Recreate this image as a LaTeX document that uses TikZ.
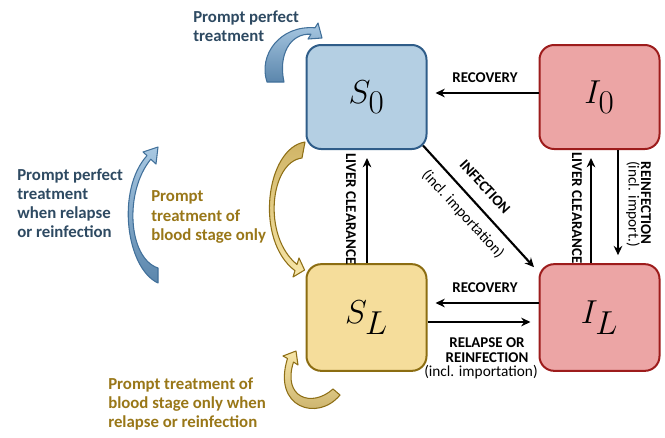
\documentclass[tikz,border=0pt]{standalone}
\usepackage{fontspec}
\setmainfont{Carlito}
\usetikzlibrary{arrows.meta,calc}
\definecolor{sfill}{HTML}{B4CFE3}
\definecolor{sdraw}{HTML}{2F5D89}
\definecolor{ifill}{HTML}{ECA5A5}
\definecolor{idraw}{HTML}{9D1C1C}
\definecolor{lfill}{HTML}{F5DD9B}
\definecolor{ldraw}{HTML}{8C6D12}
\definecolor{bluetext}{HTML}{2E4A62}
\definecolor{goldtext}{HTML}{997718}
\definecolor{bdraw}{HTML}{41709A}
\definecolor{bdark}{HTML}{5B86AC}
\definecolor{blight}{HTML}{A8C8E2}
\definecolor{gdraw}{HTML}{8E6F16}
\definecolor{gdark}{HTML}{C4AA62}
\definecolor{gmid}{HTML}{D0B466}
\definecolor{glight}{HTML}{F7E6A8}
\begin{document}
\begin{tikzpicture}[x=0.75pt,y=-0.75pt,
 box/.style={rounded corners=11pt, line width=1.5pt, minimum width=90pt, minimum height=78pt, inner sep=0pt},
 arr/.style={-{Stealth[length=7pt,width=6.5pt]}, line width=1.6pt, shorten >=6pt},
 lab/.style={font=\fontsize{11.2}{11.5}\selectfont\bfseries, inner sep=0pt, align=center},
 sub/.style={font=\fontsize{11.5}{11.5}\selectfont, inner sep=0pt, align=center},
 big/.style={font=\fontsize{35}{40}\selectfont},
 prompt/.style={font=\fontsize{12.6}{14.3}\selectfont\bfseries, align=left, anchor=west, inner sep=0pt},
 blockb/.style={draw=bdraw, line width=0.8pt, line join=round},
 blockg/.style={draw=gdraw, line width=0.8pt, line join=round}
]
\useasboundingbox (0,0) rectangle (665,437);

% compartments
\node[box, fill=sfill, draw=sdraw, big] (S0) at (366.5,97) {$S_0$};
\node[box, fill=ifill, draw=idraw, big] (I0) at (599.5,97) {$I_0$};
\node[box, fill=lfill, draw=ldraw, big, minimum height=80pt] (SL) at (366.5,317.5) {$S_L$};
\node[box, fill=ifill, draw=idraw, big, minimum height=80pt] (IL) at (599.5,317.5) {$I_L$};

% transitions
\draw[arr] (I0.west |- 0,93) -- (S0.east |- 0,93);
\node[lab] (rec1) at (485,78) {RECOVERY};
\draw[arr] (IL.west |- 0,303) -- (SL.east |- 0,303);
\node[lab] (rec2) at (485,288) {RECOVERY};
\draw[arr] (SL.east |- 0,322) -- (IL.west |- 0,322);
\node[lab] (rel) at (487,350) {RELAPSE OR\\REINFECTION};
\node[sub] (relb) at (481,372) {(incl. importation)};

\draw[arr] (SL.north -| 367,0) -- (S0.south -| 367,0);
\node[lab, rotate=-90] (lc1) at (351,209) {LIVER CLEARANCE};
\draw[arr] (IL.north -| 591,0) -- (I0.south -| 591,0);
\node[lab, rotate=-90] (lc2) at (577,208) {LIVER CLEARANCE};
\draw[arr] (I0.south -| 618,0) -- (IL.north -| 618,0);
\node[lab, rotate=-90] (reinf) at (646,203) {REINFECTION};
\node[sub, rotate=-90] (reinfb) at (633,204) {(incl. import.)};

\draw[arr, shorten >=0pt] ($(S0.south east)+(-4.4,-4.4)$) -- ($(IL.north west)+(-4.5,4)$);
\node[lab, rotate=-47.4] (inf) at (485,187) {INFECTION};
\node[sub, rotate=-47.4] (incl) at (463,214) {(incl. importation)};

% curved block arrows
\path[blockb, top color=blight, bottom color=bdark]
 (267,82) .. controls (258,55) and (280,25) .. (315,27.8) -- (318,23) -- (322,38) -- (308,39) -- (311,34.2)
 .. controls (290,33) and (278,55) .. (284,82) -- cycle;
\path[blockb, top color=blight, bottom color=bdark]
 (158,283) .. controls (126,268) and (116,190) .. (147,155.6) -- (143,152) -- (158,147) -- (156,164) -- (150.8,159.2)
 .. controls (124,192) and (128,258) .. (158,268) -- cycle;
\path[blockg, top color=gmid, bottom color=glight]
 (305,142) .. controls (266,148) and (254,240) .. (295,270.7) -- (293,277) -- (304.6,270) -- (299,258) -- (297,264.5)
 .. controls (262,236) and (270,162) .. (302,158) -- cycle;
\path[blockg, top color=glight, bottom color=gdark]
 (340,395) .. controls (318,422) and (272,408) .. (287.5,358.5) -- (283,356) -- (296,351) -- (298,365) -- (293.5,362)
 .. controls (282,398) and (312,408) .. (333,389) -- cycle;

% texts
\node[prompt, text=bluetext] (t1) at (193,26) {Prompt perfect\\treatment};
\node[prompt, text=bluetext] (t2) at (17,203) {Prompt perfect\\treatment\\when relapse\\or reinfection};
\node[prompt, text=goldtext] (t3) at (151,217) {Prompt\\treatment of\\blood stage only};
\node[prompt, text=goldtext] (t4) at (108,404) {Prompt treatment of\\blood stage only when\\relapse or reinfection};
\end{tikzpicture}
\end{document}
